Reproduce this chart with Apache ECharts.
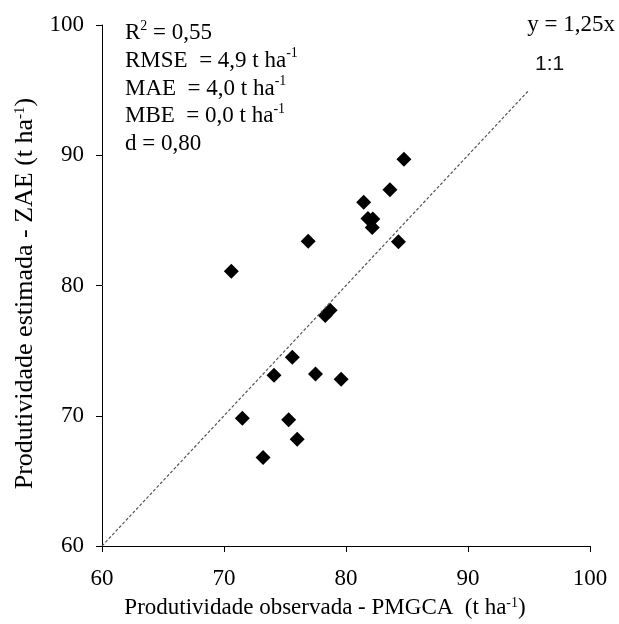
<!DOCTYPE html>
<html><head><meta charset="utf-8">
<script src="https://cdn.jsdelivr.net/npm/echarts@6/dist/echarts.min.js"></script>
<style>html,body{margin:0;padding:0;background:#fff}#c{width:619px;height:624px}</style>
</head><body><div id="c"></div>
<script>
const observed = [70.6, 76.9, 81.45, 83.6, 84.75, 81.8, 82.2, 82.15, 84.3, 78.7, 78.3, 75.6, 74.1, 77.5, 79.6, 71.5, 75.3, 76.0, 73.2];
const estimated = [81.1, 83.4, 86.4, 87.35, 89.7, 85.15, 85.1, 84.45, 83.35, 78.1, 77.7, 74.5, 73.1, 73.2, 72.8, 69.8, 69.7, 68.2, 66.8];
const lineX = [60, 95];
const lineY = [60, 95];
const statsLines = ['R{sup|2} = 0,55', 'RMSE  = 4,9 t ha{sup|-1}', 'MAE  = 4,0 t ha{sup|-1}', 'MBE  = 0,0 t ha{sup|-1}', 'd = 0,80'];

const FONT = 'Liberation Serif';
const chart = echarts.init(document.getElementById('c'));
const sup = {fontSize: 14, verticalAlign: 'top', fontFamily: FONT, color: '#000', lineHeight: 14};
const supY = {fontSize: 15, verticalAlign: 'top', fontFamily: FONT, color: '#000', lineHeight: 15};
chart.setOption({
  animation: false,
  grid: {left: 102, right: 29, top: 25, bottom: 76},
  xAxis: {
    type: 'value', min: 60, max: 100, interval: 10,
    name: 'Produtividade observada - PMGCA  (t ha{sup|-1})',
    nameLocation: 'middle', nameGap: 50,
    nameTextStyle: {fontFamily: FONT, fontSize: 23, color: '#000', rich: {sup: sup}, padding: [0, 42, 0, 0]},
    axisLine: {show: true, lineStyle: {color: '#000', width: 1}},
    axisTick: {show: true, inside: false, length: 6, lineStyle: {color: '#000'}},
    axisLabel: {fontFamily: FONT, fontSize: 23, color: '#000', margin: 21},
    splitLine: {show: false}
  },
  yAxis: {
    type: 'value', min: 60, max: 100, interval: 10,
    name: 'Produtividade estimada - ZAE (t ha{sup|-1})',
    nameLocation: 'middle', nameGap: 63,
    nameTextStyle: {fontFamily: FONT, fontSize: 26, color: '#000', rich: {sup: supY}, padding: [0, 16, 0, 0]},
    axisLine: {show: true, lineStyle: {color: '#000', width: 1}},
    axisTick: {show: true, inside: false, length: 6, lineStyle: {color: '#000'}},
    axisLabel: {fontFamily: FONT, fontSize: 23, color: '#000', margin: 18},
    splitLine: {show: false}
  },
  series: [
    {
      type: 'line', data: lineX.map((x, i) => [x, lineY[i]]), symbol: 'none',
      lineStyle: {type: [3, 2], color: '#555', width: 1.2}, silent: true
    },
    {
      type: 'scatter', data: observed.map((x, i) => [x, estimated[i]]),
      symbol: 'diamond', symbolSize: 15, itemStyle: {color: '#000', opacity: 1}
    }
  ],
  graphic: [
    {type: 'text', left: 125, top: 19, style: {
      text: statsLines.join('\n'), fontFamily: FONT, fontSize: 23, fill: '#000', lineHeight: 27.8,
      rich: {sup: sup}
    }},
    {type: 'text', right: 4, top: 13, style: {text: 'y = 1,25x', fontFamily: FONT, fontSize: 23, fill: '#000'}},
    {type: 'text', left: 535, top: 54, style: {text: '1:1', fontFamily: 'Liberation Sans', fontSize: 21, fill: '#111'}}
  ]
});
</script></body></html>
